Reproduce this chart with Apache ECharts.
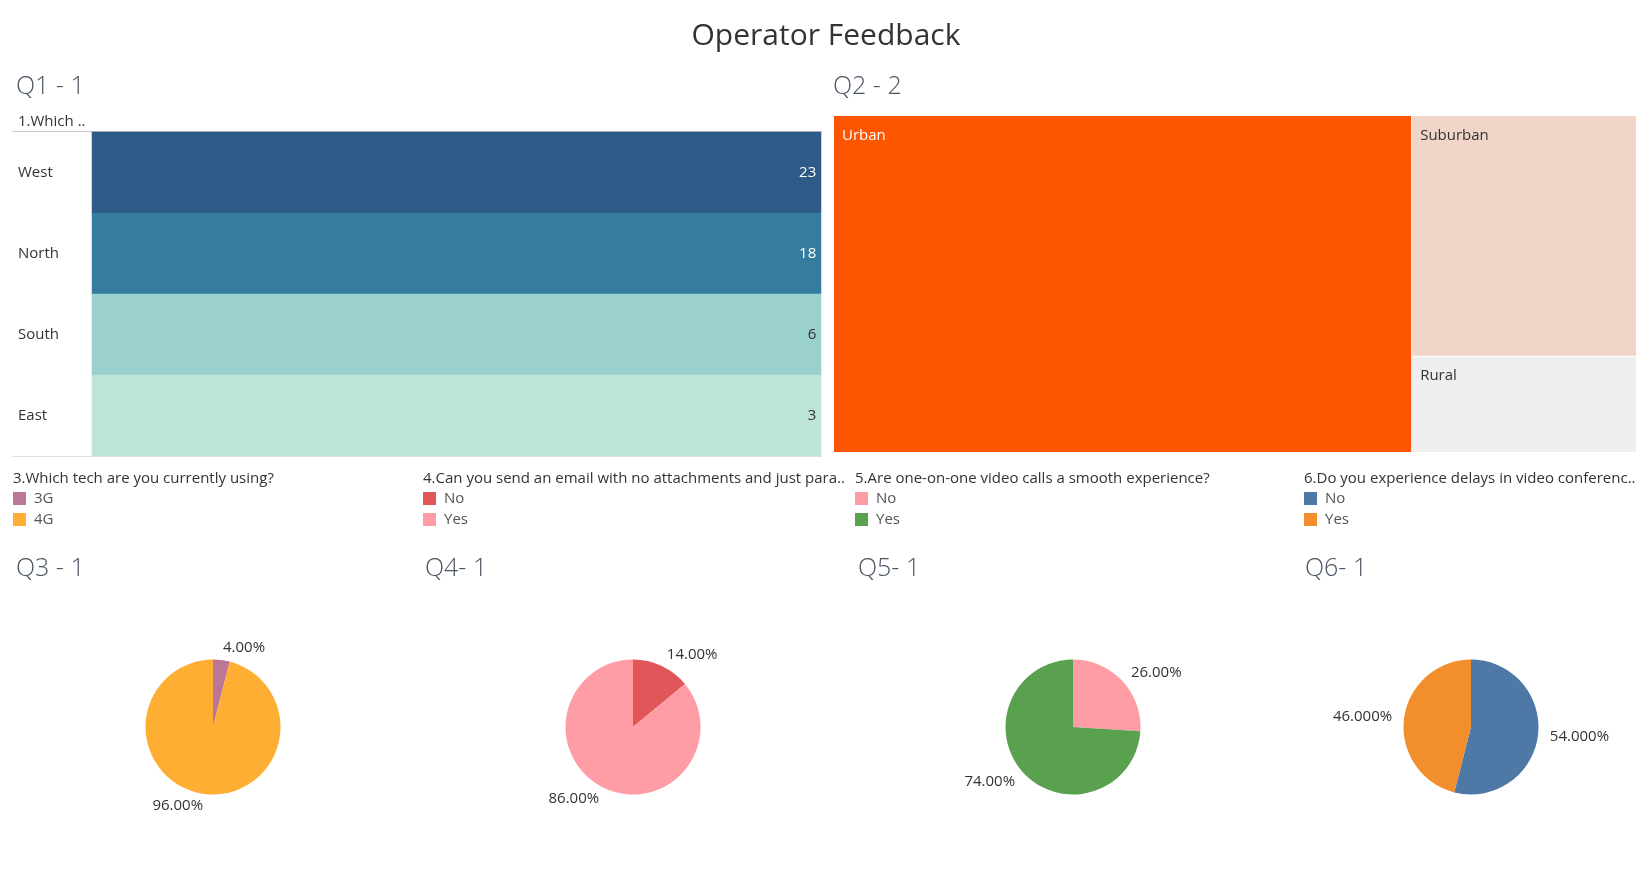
<!DOCTYPE html>
<html>
<head>
<meta charset="utf-8">
<script src="https://cdn.jsdelivr.net/npm/echarts@6/dist/echarts.min.js"></script>
<style>
html,body{margin:0;padding:0;background:#fff;}
#chart{width:1652px;height:873px;}
</style>
</head>
<body>
<div id="chart"></div>
<script>
// ---------- data ----------
const chartTitle = 'Operator Feedback';
const q1Title = 'Q1 - 1';
const q1Header = '1.Which ..';
const regions = ['West', 'North', 'South', 'East'];
const regionCounts = [23, 18, 6, 3];

const q2Title = 'Q2 - 2';
const areaNames = ['Urban', 'Suburban', 'Rural'];
const areaCounts = [36, 10, 4];

const q3Title = 'Q3 - 1';
const q3Question = '3.Which tech are you currently using?';
const q3Names = ['3G', '4G'];
const q3Pct = [4, 96];

const q4Title = 'Q4- 1';
const q4Question = '4.Can you send an email with no attachments and just para..';
const q4Names = ['No', 'Yes'];
const q4Pct = [14, 86];

const q5Title = 'Q5- 1';
const q5Question = '5.Are one-on-one video calls a smooth experience?';
const q5Names = ['No', 'Yes'];
const q5Pct = [26, 74];

const q6Title = 'Q6- 1';
const q6Question = '6.Do you experience delays in video conferenc..';
const q6Names = ['No', 'Yes'];
const q6Pct = [54, 46];

// ---------- styles ----------
const FONT = 'Open Sans';
const regionColors = ['#2e5a87', '#357c9f', '#9ad1cf', '#bde4d9'];
const regionLabelColors = ['#ffffff', '#ffffff', '#333333', '#333333'];
const areaColors = ['#fe5502', '#f1d5c8', '#efefef'];
const areaLabelColors = ['#ffffff', '#333333', '#333333'];
const q3Colors = ['#bc7696', '#ffae34'];
const q4Colors = ['#e15759', '#ff9da7'];
const q5Colors = ['#ff9da7', '#59a14f'];
const q6Colors = ['#4e79a7', '#f28e2b'];

const pies = [
  {title: q3Title, q: q3Question, names: q3Names, pct: q3Pct, colors: q3Colors, decimals: 2, x: 213, qx: 17, lx: 13},
  {title: q4Title, q: q4Question, names: q4Names, pct: q4Pct, colors: q4Colors, decimals: 2, x: 633, qx: 426, lx: 423},
  {title: q5Title, q: q5Question, names: q5Names, pct: q5Pct, colors: q5Colors, decimals: 2, x: 1073, qx: 859, lx: 855},
  {title: q6Title, q: q6Question, names: q6Names, pct: q6Pct, colors: q6Colors, decimals: 3, x: 1471, qx: 1306, lx: 1304}
];

const chart = echarts.init(document.getElementById('chart'), null, {renderer: 'canvas'});

const titles = [
  {text: chartTitle, left: 'center', top: 16, textStyle: {fontFamily: FONT, fontSize: 30, fontWeight: 'normal', color: '#333'}},
  {text: q1Title, left: 11, top: 69, textStyle: {fontFamily: FONT, fontSize: 25, fontWeight: 300, color: '#4a5563'}},
  {text: q1Header, left: 13, top: 109, textStyle: {fontFamily: FONT, fontSize: 15, fontWeight: 'normal', color: '#333'}},
  {text: q2Title, left: 828, top: 69, textStyle: {fontFamily: FONT, fontSize: 25, fontWeight: 300, color: '#4a5563'}}
];
pies.forEach(p => {
  titles.push({text: p.title, left: p.qx - 6, top: 551, textStyle: {fontFamily: FONT, fontSize: 25, fontWeight: 300, color: '#4a5563'}});
  titles.push({text: p.q, left: p.lx - 5, top: 466, textStyle: {fontFamily: FONT, fontSize: 15, fontWeight: 'normal', color: '#333'}});
});

const legends = pies.map((p, i) => ({
  seriesIndex: i + 2,
  orient: 'vertical',
  left: p.lx,
  top: 491,
  icon: 'rect',
  itemWidth: 13,
  itemHeight: 13,
  itemGap: 6,
  padding: 0,
  selectedMode: false,
  data: p.names.map((n, k) => ({name: n, itemStyle: {color: p.colors[k]}})),
  textStyle: {fontFamily: FONT, fontSize: 15, color: '#555', padding: [0, 0, 0, 3]}
}));

const series = [
  {
    type: 'heatmap',
    xAxisIndex: 0, yAxisIndex: 0,
    data: regions.map((r, i) => ({
      value: [0, i, regionCounts[i]],
      itemStyle: {color: regionColors[i]},
      label: {color: regionLabelColors[i]}
    })),
    label: {show: true, position: 'insideRight', distance: 5, fontFamily: FONT, fontSize: 15,
      formatter: p => p.value[2]},
    emphasis: {disabled: true}
  },
  {
    type: 'treemap',
    left: 834, top: 116, width: 802, height: 336,
    roam: false, nodeClick: false,
    breadcrumb: {show: false},
    squareRatio: 0.5 * (1 + Math.sqrt(5)),
    levels: [{itemStyle: {gapWidth: 1, borderWidth: 0, borderColor: '#fff'}}],
    label: {show: true, position: [3, 7], fontFamily: FONT, fontSize: 15},
    upperLabel: {show: false},
    data: areaNames.map((n, i) => ({
      name: n, value: areaCounts[i],
      itemStyle: {color: areaColors[i], borderWidth: 0},
      label: {color: areaLabelColors[i]}
    })),
    emphasis: {disabled: true}
  }
];
pies.forEach(p => {
  series.push({
    type: 'pie',
    center: [p.x, 727],
    radius: [0, 67.5],
    startAngle: 90,
    clockwise: true,
    avoidLabelOverlap: false,
    label: {show: true, position: 'outside', fontFamily: FONT, fontSize: 15, color: '#333',
      distanceToLabelLine: 0,
      formatter: d => d.value.toFixed(p.decimals) + '%'},
    labelLine: {show: false, length: 12, length2: 0},
    itemStyle: {borderWidth: 0},
    emphasis: {disabled: true},
    data: p.names.map((n, k) => ({name: n, value: p.pct[k], itemStyle: {color: p.colors[k]}}))
  });
});

chart.setOption({
  animation: false,
  backgroundColor: '#ffffff',
  title: titles,
  legend: legends,
  grid: [{left: 92, top: 132, width: 729, height: 324}],
  xAxis: [{type: 'category', data: [q1Header], show: false, gridIndex: 0}],
  yAxis: [{type: 'category', data: regions, inverse: true, gridIndex: 0,
    axisLine: {show: false}, axisTick: {show: false}, splitLine: {show: false},
    axisLabel: {align: 'left', margin: 74, fontFamily: FONT, fontSize: 15, color: '#333'}}],
  series: series,
  graphic: [
    {type: 'line', shape: {x1: 12, y1: 131.5, x2: 822, y2: 131.5}, style: {stroke: '#c8c8c8', lineWidth: 1}},
    {type: 'line', shape: {x1: 12, y1: 456.5, x2: 822, y2: 456.5}, style: {stroke: '#e0e0e0', lineWidth: 1}}
  ]
});
</script>
</body>
</html>
